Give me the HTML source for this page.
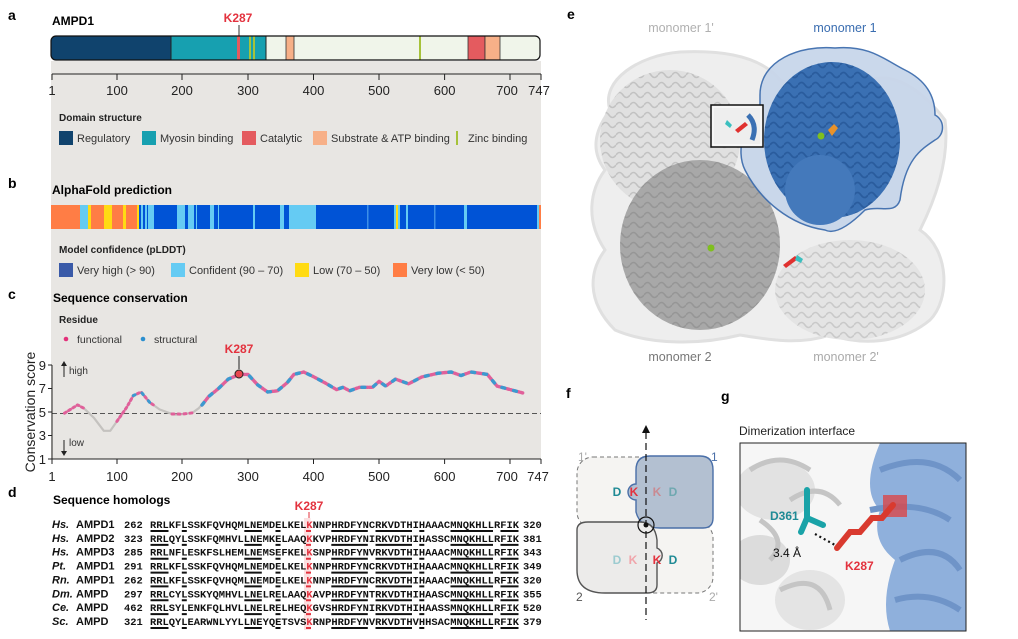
<!DOCTYPE html>
<html><head><meta charset="utf-8"><style>
html,body{margin:0;padding:0;background:#fff;}
svg{display:block;font-family:"Liberation Sans",Arial,sans-serif;}
.b{font-weight:bold}
.m{font-family:"Liberation Mono",monospace;font-weight:bold;font-size:10.4px}
</style></head><body>
<svg width="1018" height="639" viewBox="0 0 1018 639" xmlns="http://www.w3.org/2000/svg">
<defs>
<path id="u" d="M150.5,0h18v2h-18z M181.8,0h5v2h-5z M244.3,0h17.5v2h-17.5z M275.5,0h5v2h-5z M331.3,0h36.5v2h-36.5z M375.5,0h36.5v2h-36.5z M419.3,0h5v2h-5z M450.5,0h42.5v2h-42.5z M500.5,0h18v2h-18z"/>
<pattern id="rib" width="14" height="10" patternUnits="userSpaceOnUse">
<path d="M0,5 Q3.5,0 7,5 T14,5" fill="none" stroke="#8a8a8a" stroke-width="1.6"/>
</pattern>
<pattern id="ribb" width="14" height="10" patternUnits="userSpaceOnUse">
<path d="M0,5 Q3.5,0 7,5 T14,5" fill="none" stroke="#1f4f8f" stroke-width="1.8"/>
</pattern>
</defs>
<rect x="51" y="61" width="490" height="398" fill="#e8e6e3"/>
<!-- panel a -->
<text x="8" y="20" class="b" font-size="14">a</text>
<text x="52" y="25" class="b" font-size="12">AMPD1</text>
<text x="238" y="22" class="b" font-size="12" fill="#e3323e" text-anchor="middle">K287</text>
<line x1="239" y1="25" x2="239" y2="36" stroke="#333" stroke-width="1"/>
<clipPath id="bar"><rect x="51" y="36" width="489" height="24" rx="5"/></clipPath>
<g clip-path="url(#bar)">
<rect x="51" y="36" width="489" height="24" fill="#f0f5ea"/>
<rect x="51" y="36" width="120" height="24" fill="#10436d"/>
<rect x="171" y="36" width="95" height="24" fill="#17a0b0"/>
<rect x="237" y="36" width="3" height="24" fill="#e45b5f"/>
<rect x="249" y="36" width="2" height="24" fill="#a6c23a"/>
<rect x="253" y="36" width="2" height="24" fill="#a6c23a"/>
<rect x="286" y="36" width="8" height="24" fill="#f7b088" stroke="#333" stroke-width="0.8"/>
<rect x="419" y="36" width="2" height="24" fill="#a6c23a"/>
<rect x="468" y="36" width="17" height="24" fill="#e45b5f" stroke="#333" stroke-width="0.8"/>
<rect x="485" y="36" width="15" height="24" fill="#f7b088" stroke="#333" stroke-width="0.8"/>
<line x1="171" y1="36" x2="171" y2="60" stroke="#222"/>
<line x1="266" y1="36" x2="266" y2="60" stroke="#222"/>
</g>
<rect x="51" y="36" width="489" height="24" rx="5" fill="none" stroke="#111" stroke-width="1.2"/>
<g stroke="#222" stroke-width="1">
<line x1="52" y1="74" x2="541" y2="74"/>
<line x1="52" y1="74" x2="52" y2="80"/><line x1="117" y1="74" x2="117" y2="80"/><line x1="182" y1="74" x2="182" y2="80"/><line x1="248" y1="74" x2="248" y2="80"/><line x1="313.5" y1="74" x2="313.5" y2="80"/><line x1="379" y1="74" x2="379" y2="80"/><line x1="444.6" y1="74" x2="444.6" y2="80"/><line x1="510" y1="74" x2="510" y2="80"/><line x1="541" y1="74" x2="541" y2="80"/>
</g>
<g font-size="13" text-anchor="middle" fill="#222">
<text x="52" y="95">1</text><text x="117" y="95">100</text><text x="182" y="95">200</text><text x="248" y="95">300</text><text x="313.5" y="95">400</text><text x="379" y="95">500</text><text x="444.6" y="95">600</text><text x="507" y="95">700</text><text x="539" y="95">747</text>
</g>
<text x="59" y="121" class="b" font-size="10" fill="#222">Domain structure</text>
<g font-size="11" fill="#333">
<rect x="59" y="131" width="14" height="14" fill="#10436d"/><text x="77" y="142">Regulatory</text>
<rect x="142" y="131" width="14" height="14" fill="#17a0b0"/><text x="160" y="142">Myosin binding</text>
<rect x="242" y="131" width="14" height="14" fill="#e45b5f"/><text x="260" y="142">Catalytic</text>
<rect x="313" y="131" width="14" height="14" fill="#f7b088"/><text x="331" y="142">Substrate &amp; ATP binding</text>
<rect x="456" y="131" width="2" height="14" fill="#a6c23a"/><text x="468" y="142">Zinc binding</text>
</g>
<!-- panel b -->
<text x="8" y="188" class="b" font-size="14">b</text>
<text x="52" y="194" class="b" font-size="12">AlphaFold prediction</text>
<g>
<rect x="51" y="205" width="490" height="24" fill="#0053d6"/>
<rect x="51" y="205" width="29" height="24" fill="#ff7d45"/>
<rect x="80" y="205" width="8" height="24" fill="#65cbf3"/>
<rect x="88" y="205" width="3" height="24" fill="#ffdb13"/>
<rect x="91" y="205" width="13" height="24" fill="#ff7d45"/>
<rect x="104" y="205" width="8" height="24" fill="#ffdb13"/>
<rect x="112" y="205" width="11" height="24" fill="#ff7d45"/>
<rect x="123" y="205" width="3" height="24" fill="#ffdb13"/>
<rect x="126" y="205" width="11" height="24" fill="#ff7d45"/>
<rect x="137" y="205" width="2" height="24" fill="#ffdb13"/>
<rect x="141" y="205" width="2" height="24" fill="#65cbf3"/>
<rect x="145" y="205" width="2" height="24" fill="#65cbf3"/>
<rect x="148" y="205" width="6" height="24" fill="#65cbf3"/>
<rect x="177" y="205" width="8" height="24" fill="#65cbf3"/>
<rect x="188" y="205" width="6" height="24" fill="#65cbf3"/>
<rect x="196" y="205" width="1" height="24" fill="#65cbf3"/>
<rect x="210" y="205" width="4" height="24" fill="#65cbf3"/>
<rect x="218" y="205" width="1" height="24" fill="#65cbf3"/>
<rect x="253" y="205" width="2" height="24" fill="#65cbf3"/>
<rect x="280" y="205" width="4" height="24" fill="#65cbf3"/>
<rect x="289" y="205" width="27" height="24" fill="#65cbf3"/>
<rect x="367" y="205" width="1.5" height="24" fill="#3d8fe8"/>
<rect x="394" y="205" width="2" height="24" fill="#65cbf3"/>
<rect x="396" y="205" width="2" height="24" fill="#ffdb13"/>
<rect x="398" y="205" width="2" height="24" fill="#65cbf3"/>
<rect x="406" y="205" width="2" height="24" fill="#65cbf3"/>
<rect x="434" y="205" width="1.5" height="24" fill="#3d8fe8"/>
<rect x="464" y="205" width="3" height="24" fill="#65cbf3"/>
<rect x="537" y="205" width="2" height="24" fill="#65cbf3"/>
<rect x="539" y="205" width="2" height="24" fill="#ff7d45"/>
</g>
<text x="59" y="253" class="b" font-size="10" fill="#222">Model confidence (pLDDT)</text>
<g font-size="11" fill="#333">
<rect x="59" y="263" width="14" height="14" fill="#3a5aa8"/><text x="77" y="274">Very high (&gt; 90)</text>
<rect x="171" y="263" width="14" height="14" fill="#65cbf3"/><text x="189" y="274">Confident (90 – 70)</text>
<rect x="295" y="263" width="14" height="14" fill="#ffdb13"/><text x="313" y="274">Low (70 – 50)</text>
<rect x="393" y="263" width="14" height="14" fill="#ff7d45"/><text x="411" y="274">Very low (&lt; 50)</text>
</g>
<!-- panel c -->
<text x="8" y="299" class="b" font-size="14">c</text>
<text x="53" y="302" class="b" font-size="12">Sequence conservation</text>
<text x="59" y="323" class="b" font-size="10" fill="#222">Residue</text>
<circle cx="66" cy="339" r="2.3" fill="#e3307a"/><text x="77" y="343" font-size="10.5" fill="#333">functional</text>
<circle cx="143" cy="339" r="2.3" fill="#2b8fcf"/><text x="154" y="343" font-size="10.5" fill="#333">structural</text>
<line x1="52" y1="413.5" x2="541" y2="413.5" stroke="#555" stroke-width="1" stroke-dasharray="5,3"/>
<g fill="none" stroke-linejoin="round" stroke-linecap="round">
<path d="M64.5,413.2 L77.6,404.9 L84.1,408.4 L94,417.9 L103.8,430.8 L110.3,430.8 L116.9,421.4 L126.7,407.3 L133.3,395.6 L141.1,392 L149.7,402.4 L159.5,409.4 L169.3,413 L175.9,414.7 L182.4,414.1 L192.3,412.9 L198.8,408.2 L208.7,396.5 L218.5,388.5 L228.3,379.1 L239.5,374.4 L248,374.4 L257.8,385 L267.7,392 L277.5,390.8 L287.3,382.6 L293.9,374.4 L303.7,372 L313.5,376.7 L320.1,380.2 L326.7,383.8 L336.5,389.6 L343,387.3 L349.6,390.8 L359.4,387.3 L372.5,387.3 L379.1,381.4 L385.7,386.1 L395.5,379.1 L408.6,383.8 L421.7,377 L438.1,373.2 L451.2,372 L461,375.5 L470.9,372 L487.3,374.4 L497.1,386.1 L510.2,389.6 L523.3,393.1" stroke="#c4c2bf" stroke-width="2.2"/>
<path d="M202,405 L208.7,396.5 L218.5,388.5 L228.3,379.1 L239.5,374.4 L248,374.4 L257.8,385 L267.7,392 L277.5,390.8 L287.3,382.6 L293.9,374.4 L303.7,372 L313.5,376.7 L320.1,380.2 L326.7,383.8 L336.5,389.6 L343,387.3 L349.6,390.8 L359.4,387.3 L372.5,387.3 L379.1,381.4 L385.7,386.1 L395.5,379.1 L408.6,383.8 L421.7,377 L438.1,373.2 L451.2,372 L461,375.5 L470.9,372 L487.3,374.4 L497.1,386.1 L510.2,389.6 L523.3,393.1" stroke="#e0609a" stroke-width="3.4" stroke-dasharray="2,1.5"/>
<path d="M202,405 L208.7,396.5 L218.5,388.5 L228.3,379.1 L239.5,374.4 L248,374.4 L257.8,385 L267.7,392 L277.5,390.8 L287.3,382.6 L293.9,374.4 L303.7,372 L313.5,376.7 L320.1,380.2 L326.7,383.8 L336.5,389.6 L343,387.3 L349.6,390.8 L359.4,387.3 L372.5,387.3 L379.1,381.4 L385.7,386.1 L395.5,379.1 L408.6,383.8 L421.7,377 L438.1,373.2 L451.2,372 L461,375.5 L470.9,372 L487.3,374.4 L497.1,386.1 L510.2,389.6 L523.3,393.1" stroke="#3b9ad0" stroke-width="3.4" stroke-dasharray="3,9"/>
<path d="M64.5,413.2 L77.6,404.9 L84.1,408.4" stroke="#e0609a" stroke-width="3" stroke-dasharray="2,3"/>
<path d="M116.9,421.4 L126.7,407.3 L133.3,395.6 L141.1,392 L149.7,402.4 L155,406" stroke="#e0609a" stroke-width="3" stroke-dasharray="2,3"/>
<path d="M133.3,395.6 L141.1,392 L149.7,402.4" stroke="#3b9ad0" stroke-width="3" stroke-dasharray="2,8"/>
<path d="M172,414 L182.4,414.1 L192.3,412.9" stroke="#e0609a" stroke-width="3" stroke-dasharray="2,4"/>
</g>
<line x1="239" y1="356" x2="239" y2="369" stroke="#222"/>
<circle cx="239" cy="374" r="4" fill="#e8474f" stroke="#222" stroke-width="1"/>
<text x="239" y="353" class="b" font-size="12" fill="#e3323e" text-anchor="middle">K287</text>
<g stroke="#222" stroke-width="1">
<line x1="52" y1="365" x2="52" y2="459"/>
<line x1="52" y1="459" x2="541" y2="459"/>
<line x1="48" y1="365" x2="52" y2="365"/><line x1="48" y1="388.5" x2="52" y2="388.5"/><line x1="48" y1="412" x2="52" y2="412"/><line x1="48" y1="435.5" x2="52" y2="435.5"/><line x1="48" y1="459" x2="52" y2="459"/>
<line x1="52" y1="459" x2="52" y2="464"/><line x1="117" y1="459" x2="117" y2="464"/><line x1="182" y1="459" x2="182" y2="464"/><line x1="248" y1="459" x2="248" y2="464"/><line x1="313.5" y1="459" x2="313.5" y2="464"/><line x1="379" y1="459" x2="379" y2="464"/><line x1="444.6" y1="459" x2="444.6" y2="464"/><line x1="510" y1="459" x2="510" y2="464"/><line x1="541" y1="459" x2="541" y2="464"/>
<line x1="64" y1="377" x2="64" y2="364"/><line x1="64" y1="440" x2="64" y2="453"/>
</g>
<path d="M61,366 L64,361 L67,366 Z M61,451 L64,456 L67,451 Z" fill="#222"/>
<text x="69" y="374" font-size="10" fill="#333">high</text>
<text x="69" y="446" font-size="10" fill="#333">low</text>
<g font-size="13" text-anchor="end" fill="#222">
<text x="46" y="370">9</text><text x="46" y="393">7</text><text x="46" y="417">5</text><text x="46" y="440">3</text><text x="46" y="464">1</text>
</g>
<text transform="translate(35,412) rotate(-90)" font-size="14" text-anchor="middle" fill="#222">Conservation score</text>
<g font-size="13" text-anchor="middle" fill="#222">
<text x="52" y="481">1</text><text x="117" y="481">100</text><text x="182" y="481">200</text><text x="248" y="481">300</text><text x="313.5" y="481">400</text><text x="379" y="481">500</text><text x="444.6" y="481">600</text><text x="507" y="481">700</text><text x="538" y="481">747</text>
</g>
<!-- panel d -->
<text x="8" y="497" class="b" font-size="14">d</text>
<text x="53" y="504" class="b" font-size="12">Sequence homologs</text>
<text x="309" y="510" class="b" font-size="12" fill="#e3323e" text-anchor="middle">K287</text>
<line x1="309" y1="512" x2="309" y2="518" stroke="#e3323e"/>
<rect x="304" y="518" width="6.5" height="112" fill="#f8c9cc" opacity="0.6"/>
<g font-size="11" class="b" fill="#111">
<text x="52" y="528" font-style="italic">Hs.</text><text x="76" y="528">AMPD1</text>
<text x="52" y="541.9" font-style="italic">Hs.</text><text x="76" y="541.9">AMPD2</text>
<text x="52" y="555.7" font-style="italic">Hs.</text><text x="76" y="555.7">AMPD3</text>
<text x="52" y="569.6" font-style="italic">Pt.</text><text x="76" y="569.6">AMPD1</text>
<text x="52" y="583.4" font-style="italic">Rn.</text><text x="76" y="583.4">AMPD1</text>
<text x="52" y="597.3" font-style="italic">Dm.</text><text x="76" y="597.3">AMPD</text>
<text x="52" y="611.1" font-style="italic">Ce.</text><text x="76" y="611.1">AMPD</text>
<text x="52" y="625" font-style="italic">Sc.</text><text x="76" y="625">AMPD</text>
</g>
<g class="m" fill="#111">
<text x="124" y="528" class="m">262</text><text x="150" y="528" class="m" textLength="369" lengthAdjust="spacingAndGlyphs">RRLKFLSSKFQVHQMLNEMDELKEL<tspan fill="#e3323e">K</tspan>NNPHRDFYNCRKVDTHIHAAACMNQKHLLRFIK</text><text x="523" y="528" class="m">320</text>
<text x="124" y="541.9" class="m">323</text><text x="150" y="541.9" class="m" textLength="369" lengthAdjust="spacingAndGlyphs">RRLQYLSSKFQMHVLLNEMKELAAQ<tspan fill="#e3323e">K</tspan>KVPHRDFYNIRKVDTHIHASSCMNQKHLLRFIK</text><text x="523" y="541.9" class="m">381</text>
<text x="124" y="555.7" class="m">285</text><text x="150" y="555.7" class="m" textLength="369" lengthAdjust="spacingAndGlyphs">RRLNFLESKFSLHEMLNEMSEFKEL<tspan fill="#e3323e">K</tspan>SNPHRDFYNVRKVDTHIHAAACMNQKHLLRFIK</text><text x="523" y="555.7" class="m">343</text>
<text x="124" y="569.6" class="m">291</text><text x="150" y="569.6" class="m" textLength="369" lengthAdjust="spacingAndGlyphs">RRLKFLSSKFQVHQMLNEMDELKEL<tspan fill="#e3323e">K</tspan>NNPHRDFYNCRKVDTHIHAAACMNQKHLLRFIK</text><text x="523" y="569.6" class="m">349</text>
<text x="124" y="583.4" class="m">262</text><text x="150" y="583.4" class="m" textLength="369" lengthAdjust="spacingAndGlyphs">RRLKFLSSKFQVHQMLNEMDELKEL<tspan fill="#e3323e">K</tspan>NNPHRDFYNCRKVDTHIHAAACMNQKHLLRFIK</text><text x="523" y="583.4" class="m">320</text>
<text x="124" y="597.3" class="m">297</text><text x="150" y="597.3" class="m" textLength="369" lengthAdjust="spacingAndGlyphs">RRLCYLSSKYQMHVLLNELRELAAQ<tspan fill="#e3323e">K</tspan>AVPHRDFYNTRKVDTHIHAASCMNQKHLLRFIK</text><text x="523" y="597.3" class="m">355</text>
<text x="124" y="611.1" class="m">462</text><text x="150" y="611.1" class="m" textLength="369" lengthAdjust="spacingAndGlyphs">RRLSYLENKFQLHVLLNELRELHEQ<tspan fill="#e3323e">K</tspan>GVSHRDFYNIRKVDTHIHAASSMNQKHLLRFIK</text><text x="523" y="611.1" class="m">520</text>
<text x="124" y="625" class="m">321</text><text x="150" y="625" class="m" textLength="369" lengthAdjust="spacingAndGlyphs">RRLQYLEARWNLYYLLNEYQETSVS<tspan fill="#e3323e">K</tspan>RNPHRDFYNVRKVDTHVHHSACMNQKHLLRFIK</text><text x="523" y="625" class="m">379</text>
</g>
<g fill="#111">
<use href="#u" y="530"/><use href="#u" y="543.9"/><use href="#u" y="557.7"/><use href="#u" y="571.6"/><use href="#u" y="585.4"/><use href="#u" y="599.3"/><use href="#u" y="613.1"/><use href="#u" y="627"/>
</g>
<path d="M306,530h5v2h-5z M306,543.9h5v2h-5z M306,557.7h5v2h-5z M306,571.6h5v2h-5z M306,585.4h5v2h-5z M306,599.3h5v2h-5z M306,613.1h5v2h-5z M306,627h5v2h-5z" fill="#e3323e"/>

<!-- panel e -->
<text x="567" y="19" class="b" font-size="14">e</text>
<text x="681" y="32" font-size="12.5" fill="#b0b0b0" text-anchor="middle">monomer 1'</text>
<text x="845" y="32" font-size="12.5" fill="#3a6db0" text-anchor="middle">monomer 1</text>
<text x="680" y="361" font-size="12.5" fill="#777" text-anchor="middle">monomer 2</text>
<text x="846" y="361" font-size="12.5" fill="#aaa" text-anchor="middle">monomer 2'</text>
<path d="M610,110 C600,80 640,55 680,52 C720,50 760,55 780,80 C800,90 830,70 870,80 C900,70 930,100 945,120 C950,160 935,200 920,230 C950,250 950,300 930,320 C900,345 860,345 830,335 C800,345 770,340 740,335 C700,345 650,345 615,330 C585,300 590,270 605,250 C585,220 590,190 605,170 C590,150 595,130 610,110 Z" fill="#eeeeee" stroke="#e0e0e0" stroke-width="3"/>
<ellipse cx="670" cy="140" rx="70" ry="70" fill="#e0e0e0"/>
<ellipse cx="670" cy="140" rx="70" ry="70" fill="url(#rib)" opacity="0.35"/>
<ellipse cx="700" cy="245" rx="80" ry="85" fill="#a8a8a8"/>
<ellipse cx="700" cy="245" rx="80" ry="85" fill="url(#rib)" opacity="0.6"/>
<ellipse cx="850" cy="290" rx="75" ry="50" fill="#e4e4e4"/>
<ellipse cx="850" cy="290" rx="75" ry="50" fill="url(#rib)" opacity="0.3"/>
<path d="M760,95 C760,60 800,45 835,48 C870,45 885,60 905,70 C925,80 935,95 935,115 C945,120 945,135 935,140 C920,150 905,160 900,200 C895,215 880,205 865,210 C850,225 835,235 825,230 C790,225 760,200 745,170 C735,150 745,120 760,110 Z" fill="#c8d6ea" stroke="#3f6eae" stroke-width="1.5" opacity="0.95"/>
<ellipse cx="832" cy="140" rx="68" ry="78" fill="#3a70b3"/>
<ellipse cx="832" cy="140" rx="68" ry="78" fill="url(#ribb)" opacity="0.6"/>
<ellipse cx="820" cy="190" rx="35" ry="35" fill="#4479bb"/>
<circle cx="821" cy="136" r="3.5" fill="#7fbf1e"/>
<path d="M828,130 l6,-6 l4,4 l-6,8 z" fill="#e8922a"/>
<rect x="711" y="105" width="52" height="42" fill="#eee" stroke="#111" stroke-width="1.5"/>
<rect x="713" y="107" width="48" height="38" fill="none" stroke="#fff" stroke-width="1"/>
<path d="M735,130 l10,-8 l3,3 l-10,8z" fill="#e0312f"/>
<path d="M727,120 l5,5 l-2,3 l-5,-4z" fill="#3bbfbf"/>
<path d="M748,115 Q758,125 752,140" stroke="#3a70b3" stroke-width="5" fill="none"/>
<circle cx="711" cy="248" r="3.5" fill="#7fbf1e"/>
<path d="M783,265 l12,-9 l3,3 l-12,9z" fill="#e0312f"/>
<path d="M797,255 l6,4 l-2,4 l-6,-3z" fill="#3bbfbf"/>

<!-- panel f -->
<text x="566" y="398" class="b" font-size="14">f</text>
<text x="578" y="461" font-size="12" fill="#aaa">1'</text>
<text x="711" y="461" font-size="12" fill="#4a6fa8">1</text>
<text x="576" y="601" font-size="12" fill="#555">2</text>
<text x="709" y="601" font-size="12" fill="#aaa">2'</text>
<rect x="577" y="457" width="80" height="71" rx="16" fill="#f5f4f2" stroke="#777" stroke-width="1" stroke-dasharray="4,3"/>
<rect x="635" y="522" width="78" height="71" rx="16" fill="#f5f4f2" stroke="#777" stroke-width="1" stroke-dasharray="4,3"/>
<path d="M650,456 H700 Q713,456 713,470 V518 Q713,528 703,528 H660 Q640,528 636,512 V500 A8,8 0 0 1 636,484 V470 Q636,456 650,456 Z" fill="#b3c0d1" stroke="#4a6fa8" stroke-width="1.4"/>
<path d="M588,522 H640 Q655,522 657,540 V548 A8,8 0 0 1 657,563 V585 Q657,593 647,593 H605 Q577,593 577,570 V530 Q577,522 588,522 Z" fill="#ecebea" stroke="#555" stroke-width="1.4"/>
<line x1="646" y1="432" x2="646" y2="620" stroke="#111" stroke-width="1.2" stroke-dasharray="7,4"/>
<path d="M642,433 L646,425 L650,433 Z" fill="#111"/>
<circle cx="646" cy="525" r="8" fill="none" stroke="#111" stroke-width="1.2"/>
<circle cx="646" cy="525" r="2.5" fill="#111"/>
<g class="b" font-size="12" text-anchor="middle">
<text x="617" y="496" fill="#1f8a95">D</text><text x="634" y="496" fill="#e3323e">K</text>
<text x="657" y="496" fill="#c98a92">K</text><text x="673" y="496" fill="#6fa8b0">D</text>
<text x="617" y="564" fill="#9ccbd0">D</text><text x="633" y="564" fill="#f0a5ab">K</text>
<text x="657" y="564" fill="#e3323e">K</text><text x="673" y="564" fill="#1f8a95">D</text>
</g>
<!-- panel g -->
<text x="721" y="401" class="b" font-size="14">g</text>
<text x="739" y="435" font-size="12" fill="#222">Dimerization interface</text>
<clipPath id="gc"><rect x="740" y="443" width="226" height="188"/></clipPath>
<g clip-path="url(#gc)">
<rect x="740" y="443" width="226" height="188" fill="#f6f6f6"/>
<ellipse cx="775" cy="490" rx="40" ry="30" fill="#e2e2e2"/>
<ellipse cx="760" cy="560" rx="30" ry="25" fill="#dcdcdc"/>
<ellipse cx="810" cy="600" rx="35" ry="30" fill="#e4e4e4"/>
<path d="M750,470 Q780,450 810,470 M790,500 Q820,480 840,505 M760,520 Q790,540 770,560 M780,590 Q820,570 830,610" stroke="#c5c5c5" stroke-width="5" fill="none"/>
<path d="M880,443 H966 V631 H890 Q880,600 895,560 Q870,540 880,510 Q860,490 880,443 Z" fill="#8fb0dc"/>
<path d="M880,470 Q930,450 960,480 M870,510 Q920,500 950,520 M900,560 Q940,540 960,570 M895,600 Q930,590 960,610" stroke="#6f94c8" stroke-width="6" fill="none"/>
<rect x="883" y="495" width="24" height="22" fill="#d9474a" opacity="0.8"/>
</g>
<rect x="740" y="443" width="226" height="188" fill="none" stroke="#222" stroke-width="1"/>
<path d="M807,490 V518 M807,518 L801,532 M807,518 L823,525" stroke="#1aa3a8" stroke-width="6" stroke-linecap="round" fill="none"/>
<path d="M837,548 L850,532 L860,532 L872,518 L882,518 L893,505" stroke="#d93a2f" stroke-width="6" stroke-linecap="round" fill="none"/>
<line x1="815" y1="534" x2="835" y2="545" stroke="#111" stroke-width="2.2" stroke-dasharray="2,3"/>
<text x="770" y="520" class="b" font-size="12" fill="#1f8a95">D361</text>
<text x="773" y="557" font-size="12" fill="#111">3.4 Å</text>
<text x="845" y="570" class="b" font-size="12" fill="#e3323e">K287</text>
</svg>
</body></html>
